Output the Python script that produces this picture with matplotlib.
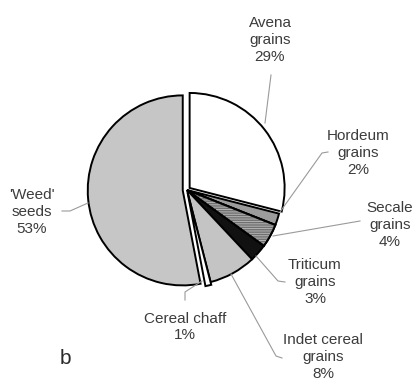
import matplotlib
matplotlib.use("Agg")
import matplotlib.pyplot as plt
from matplotlib.patches import Wedge

plt.rcParams['font.family'] = ['Liberation Sans', 'DejaVu Sans']

# Composition of the charred plant remains (%)
categories = ["Avena\ngrains", "Hordeum\ngrains", "Secale\ngrains", "Triticum\ngrains",
              "Indet cereal\ngrains", "Cereal chaff", "'Weed'\nseeds"]
values = [29, 2, 4, 3, 8, 1, 53]
explode_frac = [0.035, 0, 0, 0, 0, 0.03, 0.045]
colors = ["#ffffff", "#9c9c9c", "#b4b4b4", "#111111", "#c4c4c4", "#ffffff", "#c6c6c6"]
panel_letter = "b"

# label anchor (x, y) in pixel-like data units, and leader polylines
label_pos = [(270, 340), (358, 227), (390, 155), (315, 98), (323, 23), (185, 53), (32, 168)]
leaders = [
    [(271, 305), (265, 257)],
    [(328, 228), (322, 227), (280, 168)],
    [(360, 159), (273, 144)],
    [(285, 98), (278, 99), (256, 124)],
    [(282, 22), (276, 24), (231, 106)],
    [(185, 80), (185, 88), (202, 99)],
    [(62, 169), (70, 169), (88, 177)],
]

R = 95
fig = plt.figure(figsize=(4.14, 3.80), dpi=100)
ax = fig.add_axes([0, 0, 1, 1])

wedges, _ = ax.pie(values, colors=colors, explode=[e * R for e in explode_frac],
                   startangle=90, counterclock=False, center=(187, 190), radius=R,
                   wedgeprops=dict(edgecolor='black', linewidth=1.4),
                   frame=True)
ax.set_xlim(0, 414)
ax.set_ylim(0, 380)
ax.set_aspect('equal')
ax.axis('off')

# horizontal line texture on the Secale slice
w = wedges[2]
hatch = Wedge(w.center, w.r, w.theta1, w.theta2, facecolor='none',
              edgecolor='#707070', linewidth=0, hatch='-------', zorder=w.get_zorder() + 0.1)
ax.add_patch(hatch)
outline = Wedge(w.center, w.r, w.theta1, w.theta2, facecolor='none',
                edgecolor='black', linewidth=1.4, zorder=w.get_zorder() + 0.2)
ax.add_patch(outline)

for lab, val, (x, y) in zip(categories, values, label_pos):
    ax.text(x, y, f"{lab}\n{val}%", ha='center', va='center', fontsize=11,
            color='#3c3c3c', linespacing=1.25)

for pts in leaders:
    xs, ys = zip(*pts)
    ax.plot(xs, ys, color='#9a9a9a', linewidth=0.8)

ax.text(65, 22, panel_letter, ha='center', va='center', fontsize=15, color='#2a2a2a')

fig.savefig("out.png", dpi=100, facecolor='white')
